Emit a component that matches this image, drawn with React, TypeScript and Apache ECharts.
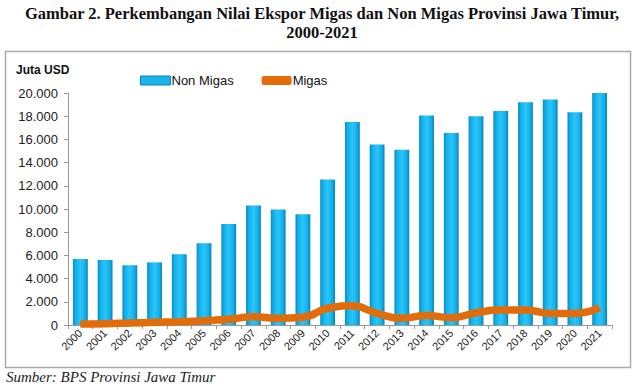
import React, { useEffect, useRef } from "react";
import * as echarts from "echarts";

const years = ["2000","2001","2002","2003","2004","2005","2006","2007","2008","2009","2010","2011","2012","2013","2014","2015","2016","2017","2018","2019","2020","2021"];
const nonMigas = [5700,5600,5150,5400,6100,7050,8700,10300,9950,9550,12550,17500,15550,15100,18050,16550,18000,18450,19200,19450,18350,20100];
const migas = [80,110,170,230,290,370,490,720,580,660,1440,1650,1000,580,820,630,1060,1290,1290,1000,1000,1500];

export default function App() {
  const ref = useRef<HTMLDivElement>(null);
  useEffect(() => {
    if (!ref.current) return;
    const chart = echarts.init(ref.current, null, { renderer: "svg" });
    chart.setOption({
      animation: false,
      backgroundColor: "#fff",
      title: {
        text: "Gambar 2. Perkembangan Nilai Ekspor Migas dan Non Migas Provinsi Jawa Timur,\n2000-2021",
        left: "center",
        top: -1,
        textStyle: { fontFamily: "Liberation Serif", fontWeight: "bold", fontSize: 16.5, lineHeight: 19, color: "#111", align: "center" },
      },
      graphic: [
        { type: "rect", shape: { x: 5.5, y: 51.5, width: 625, height: 316 }, style: { fill: "none", stroke: "#aaa", lineWidth: 1.5 }, z: -1 },
        { type: "text", left: 16, top: 64, style: { text: "Juta USD", font: "bold 12px 'Liberation Sans'", fill: "#111" } },
        { type: "text", left: 6, top: 369, style: { text: "Sumber: BPS Provinsi Jawa Timur", font: "italic 15px 'Liberation Serif'", fill: "#222" } },
      ],
      legend: {
        left: 135,
        top: 69,
        itemGap: 28,
        itemWidth: 30,
        textStyle: { fontFamily: "Liberation Sans", fontSize: 13, color: "#111", padding: [0, 0, 0, -4] },
        data: [
          { name: "Non Migas", icon: "rect", itemStyle: { color: "#1AB3EA", borderColor: "#0A86B8", borderWidth: 1 } },
          { name: "Migas", icon: "roundRect", itemStyle: { color: "#E36C0A" } },
        ],
        itemHeight: 9,
      },
      grid: { left: 68, right: 32, top: 93, bottom: 61 },
      xAxis: {
        type: "category",
        data: years,
        axisLine: { lineStyle: { color: "#999" } },
        axisTick: { show: true, lineStyle: { color: "#999" }, length: 4 },
        axisLabel: { rotate: 45, fontFamily: "Liberation Sans", fontSize: 11, color: "#222", margin: 6 },
      },
      yAxis: {
        type: "value",
        min: 0,
        max: 20000,
        interval: 2000,
        splitLine: { show: false },
        axisLine: { show: true, lineStyle: { color: "#999" } },
        axisTick: { show: true, length: 4, lineStyle: { color: "#999" } },
        axisLabel: {
          fontFamily: "Liberation Sans",
          fontSize: 13,
          color: "#222",
          margin: 10,
          formatter: (v: number) => (v === 0 ? "0" : v.toLocaleString("de-DE")),
        },
      },
      series: [
        {
          name: "Non Migas",
          type: "bar",
          data: nonMigas,
          barWidth: "60%",
          itemStyle: {
            color: new echarts.graphic.LinearGradient(0, 0, 1, 0, [
              { offset: 0, color: "#0A8CC2" },
              { offset: 0.2, color: "#12B2EC" },
              { offset: 0.5, color: "#2CC4F8" },
              { offset: 0.8, color: "#12B2EC" },
              { offset: 1, color: "#0A80B4" },
            ]),
          },
        },
        {
          name: "Migas",
          type: "line",
          data: migas,
          smooth: true,
          symbol: "none",
          lineStyle: { color: "#E36C0A", width: 7.5 },
          itemStyle: { color: "#E36C0A" },
        },
      ],
    });
    return () => chart.dispose();
  }, []);
  return <div ref={ref} style={{ width: 644, height: 386, position: "absolute", left: 0, top: 0 }} />;
}
